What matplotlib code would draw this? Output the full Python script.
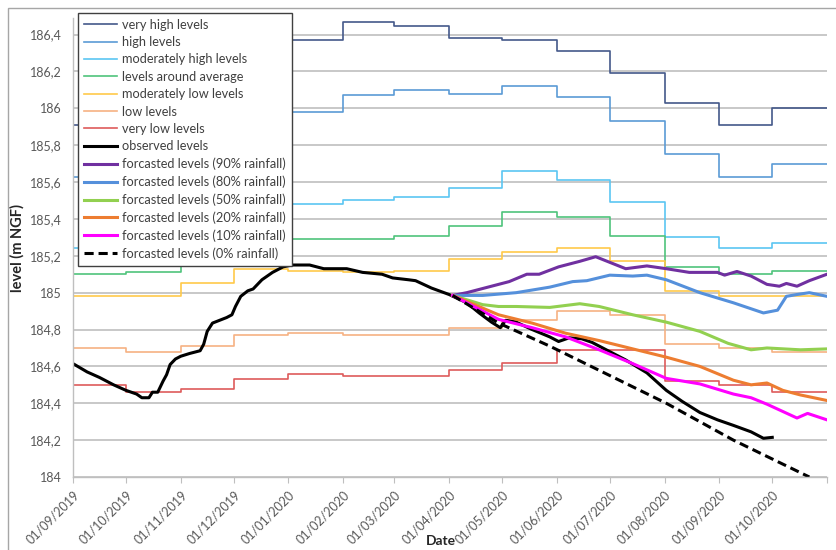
import matplotlib
matplotlib.use('Agg')
import matplotlib.pyplot as plt
from matplotlib.ticker import FuncFormatter, MultipleLocator
from matplotlib.patches import Rectangle
import pandas as pd

plt.rcParams['font.family'] = ['Lato', 'DejaVu Sans']

# monthly threshold levels, Sep 2019 .. Oct 2020 (one value per month)
months = pd.date_range('2019-09-01', '2020-10-01', freq='MS')
very_high = [185.91, 186.00, 186.12, 186.25, 186.37, 186.47, 186.445, 186.38, 186.37, 186.31, 186.19, 186.03, 185.91, 186.00]
high = [185.63, 185.70, 185.80, 185.90, 185.98, 186.07, 186.10, 186.08, 186.12, 186.06, 185.93, 185.75, 185.63, 185.70]
mod_high = [185.24, 185.27, 185.35, 185.43, 185.48, 185.50, 185.52, 185.57, 185.66, 185.61, 185.49, 185.30, 185.24, 185.27]
around_avg = [185.10, 185.11, 185.22, 185.27, 185.29, 185.29, 185.31, 185.36, 185.44, 185.41, 185.31, 185.14, 185.10, 185.12]
mod_low = [184.98, 184.98, 185.05, 185.13, 185.12, 185.11, 185.12, 185.18, 185.22, 185.24, 185.17, 185.01, 184.98, 184.98]
low = [184.70, 184.68, 184.71, 184.77, 184.78, 184.77, 184.77, 184.81, 184.85, 184.90, 184.88, 184.72, 184.70, 184.68]
very_low = [184.50, 184.46, 184.48, 184.53, 184.56, 184.55, 184.55, 184.58, 184.62, 184.69, 184.69, 184.52, 184.50, 184.46]

obs_dates = ['2019-09-01', '2019-09-09', '2019-09-16', '2019-09-24', '2019-10-01', '2019-10-07',
             '2019-10-10', '2019-10-14', '2019-10-16', '2019-10-19', '2019-10-22', '2019-10-24',
             '2019-10-26', '2019-10-29', '2019-11-01', '2019-11-06', '2019-11-12', '2019-11-14',
             '2019-11-16', '2019-11-19', '2019-11-23', '2019-11-27', '2019-11-30', '2019-12-02',
             '2019-12-05', '2019-12-09', '2019-12-12', '2019-12-17', '2019-12-23', '2019-12-29',
             '2020-01-03', '2020-01-13', '2020-01-21', '2020-02-03', '2020-02-12', '2020-02-23',
             '2020-02-29', '2020-03-09', '2020-03-13', '2020-03-22', '2020-04-01', '2020-04-11',
             '2020-04-18', '2020-04-25', '2020-04-30', '2020-05-03', '2020-05-09', '2020-05-18',
             '2020-05-28', '2020-06-02', '2020-06-08', '2020-06-15', '2020-06-21', '2020-06-29',
             '2020-07-10', '2020-07-22', '2020-08-02', '2020-08-11', '2020-08-21', '2020-08-31',
             '2020-09-09', '2020-09-19', '2020-09-26', '2020-10-01']
observed = [184.615, 184.57, 184.54, 184.50, 184.47, 184.45,
            184.43, 184.43, 184.46, 184.46, 184.52, 184.555,
            184.61, 184.64, 184.655, 184.67, 184.685, 184.72,
            184.79, 184.835, 184.85, 184.865, 184.88, 184.925,
            184.98, 185.01, 185.02, 185.07, 185.11, 185.14,
            185.15, 185.15, 185.13, 185.13, 185.11, 185.10,
            185.08, 185.07, 185.065, 185.025, 184.99, 184.945,
            184.89, 184.84, 184.81, 184.85, 184.84, 184.80,
            184.76, 184.735, 184.755, 184.75, 184.73, 184.69,
            184.635, 184.565, 184.47, 184.41, 184.35, 184.31,
            184.28, 184.245, 184.21, 184.215]

f90_dates = ['2020-04-03', '2020-04-11', '2020-04-25', '2020-05-05', '2020-05-15', '2020-05-22',
             '2020-06-02', '2020-06-14', '2020-06-23', '2020-07-10', '2020-07-22', '2020-08-02',
             '2020-08-15', '2020-08-31', '2020-09-04', '2020-09-11', '2020-09-19', '2020-09-28',
             '2020-10-05', '2020-10-09', '2020-10-15', '2020-10-22', '2020-11-01']
f90 = [184.985, 185.0, 185.035, 185.06, 185.10, 185.10,
       185.14, 185.17, 185.195, 185.13, 185.145, 185.13,
       185.11, 185.11, 185.095, 185.115, 185.09, 185.045,
       185.035, 185.05, 185.035, 185.065, 185.10]

f80_dates = ['2020-04-03', '2020-04-20', '2020-05-09', '2020-05-28', '2020-06-10', '2020-06-18',
             '2020-07-01', '2020-07-14', '2020-07-22', '2020-08-02', '2020-08-21', '2020-09-09',
             '2020-09-26', '2020-10-04', '2020-10-09', '2020-10-15', '2020-10-22', '2020-11-01']
f80 = [184.985, 184.985, 185.0, 185.03, 185.06, 185.065,
       185.095, 185.09, 185.095, 185.07, 185.0, 184.945,
       184.89, 184.905, 184.98, 184.99, 185.0, 184.98]

f50_dates = ['2020-04-03', '2020-04-20', '2020-04-29', '2020-05-09', '2020-05-28', '2020-06-14',
             '2020-06-25', '2020-07-14', '2020-08-02', '2020-08-21', '2020-09-06', '2020-09-19',
             '2020-09-28', '2020-10-17', '2020-11-01']
f50 = [184.985, 184.935, 184.925, 184.925, 184.92, 184.94,
       184.925, 184.88, 184.84, 184.79, 184.725, 184.69,
       184.70, 184.69, 184.695]

f20_dates = ['2020-04-03', '2020-04-29', '2020-05-18', '2020-06-06', '2020-06-25', '2020-07-14',
             '2020-08-02', '2020-08-21', '2020-09-09', '2020-09-19', '2020-09-28', '2020-10-07',
             '2020-10-17', '2020-11-01']
f20 = [184.985, 184.88, 184.835, 184.78, 184.74, 184.695,
       184.65, 184.60, 184.525, 184.50, 184.51, 184.47,
       184.445, 184.415]

f10_dates = ['2020-04-03', '2020-04-20', '2020-04-29', '2020-05-18', '2020-06-06', '2020-06-25',
             '2020-07-14', '2020-08-02', '2020-08-21', '2020-09-09', '2020-09-19', '2020-09-28',
             '2020-10-15', '2020-10-21', '2020-11-01']
f10 = [184.985, 184.90, 184.855, 184.81, 184.76, 184.69,
       184.615, 184.535, 184.505, 184.45, 184.43, 184.395,
       184.32, 184.345, 184.31]

f0_dates = ['2020-04-03', '2020-04-29', '2020-05-28', '2020-08-02', '2020-09-09', '2020-10-22']
f0 = [184.985, 184.835, 184.71, 184.40, 184.20, 184.0]

thresholds = [
    ('very high levels', very_high, '#44598A'),
    ('high levels', high, '#5B9BD5'),
    ('moderately high levels', mod_high, '#5BC6F2'),
    ('levels around average', around_avg, '#4FC47C'),
    ('moderately low levels', mod_low, '#FFC94A'),
    ('low levels', low, '#F6B183'),
    ('very low levels', very_low, '#DE5B5B'),
]
forecasts = [
    ('forcasted levels (90% rainfall)', f90_dates, f90, '#7030A0', '-'),
    ('forcasted levels (80% rainfall)', f80_dates, f80, '#5590DB', '-'),
    ('forcasted levels (50% rainfall)', f50_dates, f50, '#92D050', '-'),
    ('forcasted levels (20% rainfall)', f20_dates, f20, '#ED7D31', '-'),
    ('forcasted levels (10% rainfall)', f10_dates, f10, '#FF00FF', '-'),
    ('forcasted levels (0% rainfall)', f0_dates, f0, 'black', (0, (3, 1.6))),
]

fig = plt.figure(figsize=(8.37, 5.5), dpi=100)
ax = fig.add_axes([73 / 837, 1 - 477 / 550, 754 / 837, 459 / 550])

step_x = list(months) + [pd.Timestamp('2020-11-01')]
for name, vals, col in thresholds:
    ax.step(step_x, vals + [vals[-1]], where='post', color=col, lw=1.2, label=name)

ax.plot(pd.to_datetime(obs_dates), observed, color='black', lw=2.2, label='observed levels')

for name, d, v, col, ls in forecasts:
    ax.plot(pd.to_datetime(d), v, color=col, lw=2.2, ls=ls, label=name)

ax.set_xlim(pd.Timestamp('2019-09-01'), pd.Timestamp('2020-11-01'))
ax.set_ylim(184, 186.49)
ax.yaxis.set_major_locator(MultipleLocator(0.2))
ax.yaxis.set_major_formatter(FuncFormatter(lambda v, p: f'{round(v, 1):g}'.replace('.', ',')))
ax.grid(axis='y', color='#BFBFBF', lw=1.2)
ax.set_axisbelow(True)

ticks = pd.date_range('2019-09-01', '2020-11-01', freq='MS')
ax.set_xticks(ticks)
ax.set_xticklabels([t.strftime('%d/%m/%Y') for t in ticks[:-1]] + [''])
plt.setp(ax.get_xticklabels(), rotation=45, ha='right', rotation_mode='anchor')
ax.tick_params(axis='x', length=4, color='#BFBFBF', colors='#595959', labelsize=9, pad=4)
ax.tick_params(axis='y', length=0, colors='#595959', labelsize=9, pad=8)

for s in ['top', 'right']:
    ax.spines[s].set_visible(False)
for s in ['left', 'bottom']:
    ax.spines[s].set_color('#BFBFBF')
    ax.spines[s].set_linewidth(1.0)

ax.set_ylabel('level (m NGF)', fontsize=10.5, fontweight='bold', color='#262626', labelpad=4)
ax.set_xlabel('Date', fontsize=10, fontweight='bold', color='#262626', labelpad=0)
ax.xaxis.set_label_coords(0.488, -0.126)

handles, labels = ax.get_legend_handles_labels()
leg = fig.legend(handles, labels, loc='upper left', bbox_to_anchor=(78 / 837, 1 - 13 / 550),
                 fontsize=9.2, frameon=True, fancybox=False, framealpha=1, edgecolor='#404040',
                 borderaxespad=0, labelspacing=0.42, handlelength=2.6, handletextpad=0.4,
                 borderpad=0.45)
leg.get_frame().set_linewidth(1.0)
for t in leg.get_texts():
    t.set_color('#404040')

# chart area border (only top and left edges are visible in the picture)
fig.patches.append(Rectangle((8 / 837, -0.1), 1.2, 1.1 - 8 / 550,
                             transform=fig.transFigure, fill=False, edgecolor='#A6A6A6', lw=1.0))

fig.savefig('out.png', dpi=100)
